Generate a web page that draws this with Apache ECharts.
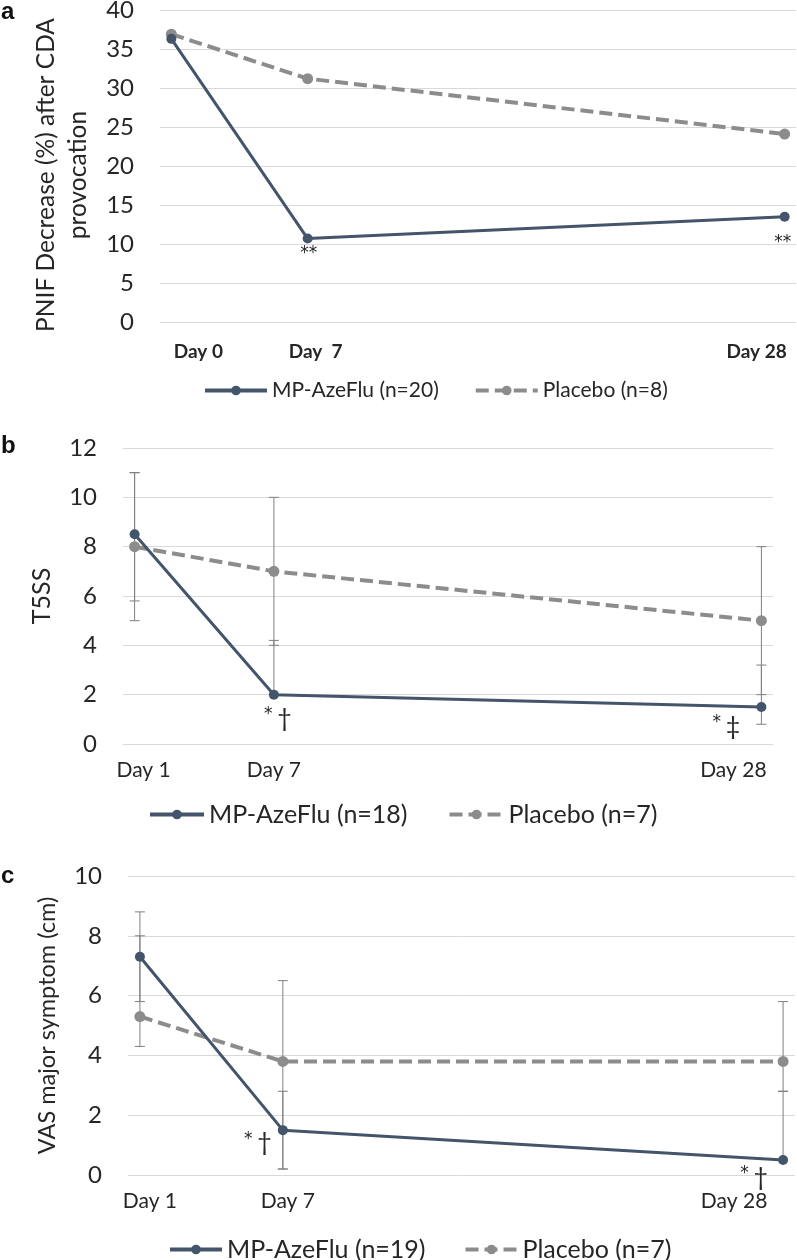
<!DOCTYPE html>
<html><head><meta charset="utf-8">
<script src="https://cdn.jsdelivr.net/npm/echarts@6/dist/echarts.min.js"></script>
<style>html,body{margin:0;padding:0;background:#fff}#c{width:797px;height:1260px}</style>
</head><body><div id="c"></div><script>
// ---- data ----
const xDays = [1, 7, 28];
const aTickLabels = ['Day 0', 'Day  7', 'Day 28'];
const bcTickLabels = ['Day 1', 'Day 7', 'Day 28'];

const aMP = [36.3, 10.7, 13.5];
const aPl = [36.9, 31.2, 24.1];
const aMPNote = ['', '**', '**'];

const bMP = [8.5, 2.0, 1.5];
const bPl = [8.0, 7.0, 5.0];
const bMPLow = [5.8, 2.0, 0.8];
const bMPHigh = [11, 4.2, 3.2];
const bPlLow = [5, 4, 2];
const bPlHigh = [11, 10, 8];
const bMPNote = ['', '* †', '* ‡'];

const cMP = [7.3, 1.5, 0.5];
const cPl = [5.3, 3.8, 3.8];
const cMPLow = [5.8, 0.2, 0.5];
const cMPHigh = [8.8, 2.8, 2.8];
const cPlLow = [4.3, 0.2, 2.8];
const cPlHigh = [8.0, 6.5, 5.8];
const cMPNote = ['', '* †', '* †'];

const aNames = ['MP-AzeFlu (n=20)', 'Placebo (n=8)'];
const bNames = ['MP-AzeFlu (n=18)', 'Placebo (n=7)'];
const cNames = ['MP-AzeFlu (n=19)', 'Placebo (n=7)'];

// ---- style ----
const FONT = 'Lato';
const BLUE = '#44546A';
const GRAY = '#8c8c8c';
const TXT = '#262626';

const chart = echarts.init(document.getElementById('c'));

function xAxis(gi, labels, shifts, opts) {
  const rich = {};
  shifts.forEach((s, i) => {
    rich['r' + i] = {
      fontFamily: FONT, fontSize: opts.fontSize, fontWeight: opts.fontWeight, color: TXT,
      padding: s >= 0 ? [0, 0, 0, 2 * s] : [0, -2 * s, 0, 0]
    };
  });
  return {
    gridIndex: gi, type: 'value', min: 0.5, max: 28.5,
    axisLine: { show: false }, axisTick: { show: false }, splitLine: { show: false },
    axisLabel: {
      customValues: xDays, margin: opts.margin,
      formatter: v => { const i = xDays.indexOf(v); return '{r' + i + '|' + labels[i] + '}'; },
      rich
    }
  };
}
function yAxis(gi, max, interval, name, nameGap, nameSize, pad) {
  return {
    gridIndex: gi, type: 'value', min: 0, max, interval,
    axisLine: { show: false }, axisTick: { show: false },
    splitLine: { lineStyle: { color: '#d9d9d9', width: 1 } },
    axisLabel: { fontFamily: FONT, fontSize: 24, color: TXT, margin: 26 },
    name, nameLocation: 'middle', nameGap, nameRotate: 90,
    nameTextStyle: { fontFamily: FONT, fontSize: nameSize, color: TXT, lineHeight: 32, padding: pad }
  };
}
function noteFmt(p) {
  const t = p.data.note || '';
  return t.split('').map(ch => ch === '*' ? '{s|*}' : (ch === ' ' ? '{sp| }' : '{d|' + ch + '}')).join('');
}
function mpSeries(gi, name, vals, notes, offsets) {
  return {
    type: 'line', name, xAxisIndex: gi, yAxisIndex: gi, z: 5,
    symbol: 'circle', symbolSize: 10,
    itemStyle: { color: BLUE }, lineStyle: { color: BLUE, width: 3 },
    data: xDays.map((x, i) => ({
      value: [x, vals[i]], note: notes[i],
      label: {
        show: !!notes[i], position: 'inside', offset: offsets[i], formatter: noteFmt,
        rich: {
          s: { fontFamily: 'DejaVu Sans', fontSize: 17, color: TXT, verticalAlign: 'top' },
          sp: { fontFamily: FONT, fontSize: 18, color: TXT },
          d: { fontFamily: FONT, fontSize: 25, color: TXT }
        }
      }
    }))
  };
}
function plSeries(gi, name, vals) {
  return {
    type: 'line', name, xAxisIndex: gi, yAxisIndex: gi, z: 4,
    symbol: 'circle', symbolSize: 11,
    itemStyle: { color: GRAY }, lineStyle: { color: GRAY, width: 4, type: [13, 6] },
    data: xDays.map((x, i) => [x, vals[i]])
  };
}
function errSeries(gi, lows, highs) {
  const data = [];
  lows.forEach((lo, k) => lo.forEach((l, i) => data.push([xDays[i], l, highs[k][i]])));
  return {
    type: 'custom', xAxisIndex: gi, yAxisIndex: gi, z: 3, silent: true,
    renderItem: (params, api) => {
      const lo = api.coord([api.value(0), api.value(1)]);
      const hi = api.coord([api.value(0), api.value(2)]);
      const st = { stroke: '#7f7f7f', lineWidth: 1 };
      return {
        type: 'group', children: [
          { type: 'line', shape: { x1: lo[0], y1: lo[1], x2: hi[0], y2: hi[1] }, style: st },
          { type: 'line', shape: { x1: lo[0] - 5, y1: lo[1], x2: lo[0] + 5, y2: lo[1] }, style: st },
          { type: 'line', shape: { x1: hi[0] - 5, y1: hi[1], x2: hi[0] + 5, y2: hi[1] }, style: st }
        ]
      };
    },
    data
  };
}
function legend(top, left, names, itemWidth, gap, size) {
  return {
    top, left, data: names, itemWidth, itemHeight: 12, itemGap: gap,
    lineStyle: { width: 4 },
    textStyle: { fontFamily: FONT, fontSize: size, color: TXT }
  };
}

const option = {
  animation: false,
  textStyle: { fontFamily: FONT },
  grid: [
    { left: 160, top: 10, width: 636, height: 312, outerBoundsMode: 'none' },
    { left: 123, top: 448, width: 650, height: 296, outerBoundsMode: 'none' },
    { left: 128, top: 876, width: 667, height: 299, outerBoundsMode: 'none' }
  ],
  xAxis: [
    xAxis(0, aTickLabels, [27, 8, -28], { fontSize: 19, fontWeight: 'bold', margin: 20 }),
    xAxis(1, bcTickLabels, [9, 0, -28], { fontSize: 21, fontWeight: 'normal', margin: 16 }),
    xAxis(2, bcTickLabels, [10, 5, -49], { fontSize: 21, fontWeight: 'normal', margin: 16 })
  ],
  yAxis: [
    yAxis(0, 40, 5, 'PNIF Decrease (%) after CDA\nprovocation', 66, 24.5, [0, 18, 0, 0]),
    yAxis(1, 12, 2, 'T5SS', 64, 25, 0),
    yAxis(2, 10, 2, 'VAS major symptom (cm)', 61, 23.5, 0)
  ],
  legend: [
    legend(375, 198, aNames, 62, 35, 21),
    legend(797, 143, bNames, 54, 40, 25),
    legend(1232, 163, cNames, 52, 38, 25)
  ],
  graphic: [
    { type: 'text', left: 1, top: 0, style: { text: 'a', font: 'bold 24px "Liberation Sans"', fill: '#111' } },
    { type: 'text', left: 1, top: 434, style: { text: 'b', font: 'bold 24px "Liberation Sans"', fill: '#111' } },
    { type: 'text', left: 1, top: 864, style: { text: 'c', font: 'bold 24px "Liberation Sans"', fill: '#111' } }
  ],
  series: [
    mpSeries(0, aNames[0], aMP, aMPNote, [[0, 0], [1, 15], [-2, 26]]),
    plSeries(0, aNames[1], aPl),
    errSeries(1, [bMPLow, bPlLow], [bMPHigh, bPlHigh]),
    mpSeries(1, bNames[0], bMP, bMPNote, [[0, 0], [4, 24], [-35, 20]]),
    plSeries(1, bNames[1], bPl),
    errSeries(2, [cMPLow, cPlLow], [cMPHigh, cPlHigh]),
    mpSeries(2, cNames[0], cMP, cMPNote, [[0, 0], [-25, 13], [-29, 18]]),
    plSeries(2, cNames[1], cPl)
  ]
};
chart.setOption(option);
</script></body></html>
